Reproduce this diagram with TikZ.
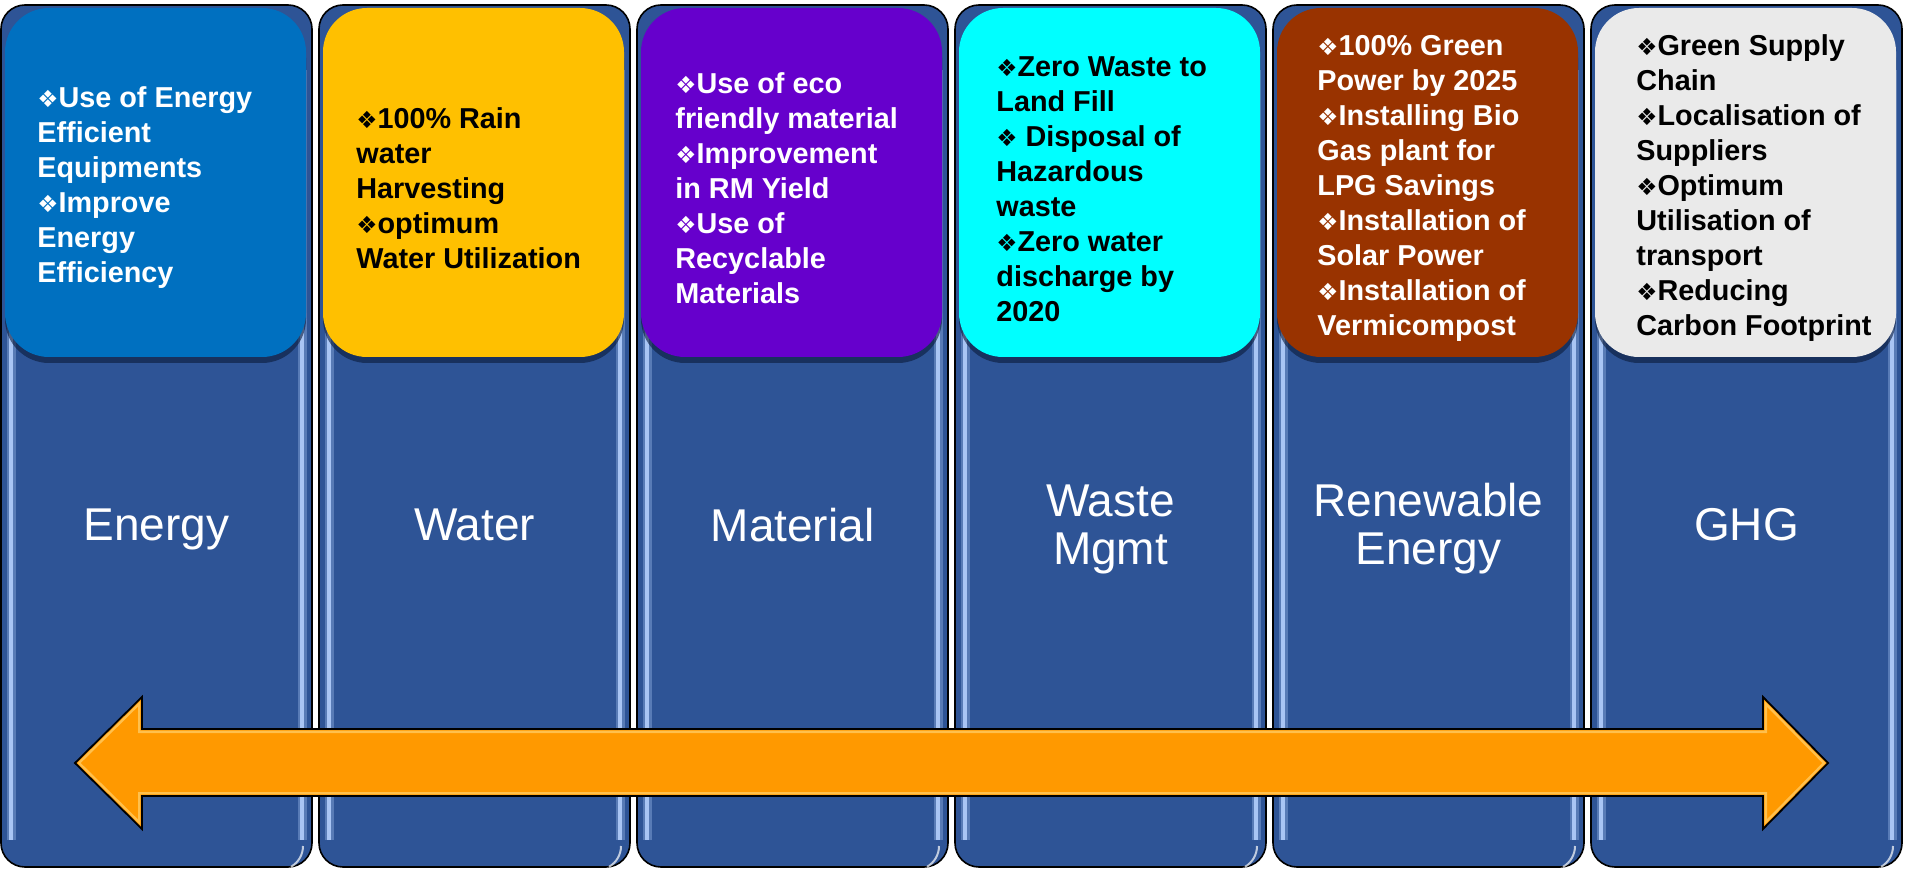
\documentclass[tikz,border=0pt]{standalone}
\usepackage{fontspec}
\setmainfont{Liberation Sans}
\newfontfamily\symf{DejaVu Sans}
\usetikzlibrary{shadows}
\definecolor{colblue}{HTML}{2E5496}
\definecolor{stripeblue}{HTML}{A9C5F4}
\definecolor{c1}{HTML}{0070C0}
\definecolor{c2}{HTML}{FFC000}
\definecolor{c3}{HTML}{6600CC}
\definecolor{c4}{HTML}{00FFFF}
\definecolor{c5}{HTML}{993300}
\definecolor{c6}{HTML}{EAEAEA}
\definecolor{shadowc}{HTML}{0A1A3A}
\definecolor{arroworange}{HTML}{FF9900}
\definecolor{arrowlight}{HTML}{FFC04D}
\newcommand{\bul}{{\symf\fontsize{11.8pt}{11.8pt}\selectfont ❖}}
\tikzset{
  colbox/.style={draw=black, line width=0.8pt, fill=colblue, rounded corners=12pt,
    minimum width=155.5pt, minimum height=431pt, inner sep=0pt},
  topbox/.style={rounded corners=22pt, minimum width=150.5pt, minimum height=174.5pt,
    inner sep=0pt, drop shadow={opacity=0.6, fill=shadowc, shadow xshift=0pt, shadow yshift=-3pt}},
  bullets/.style={anchor=west, align=left, inner sep=0pt,
    font=\bfseries\fontsize{14.4pt}{17.5pt}\selectfont},
  label/.style={align=center, inner sep=0pt, text=white,
    font=\fontsize{23pt}{24pt}\selectfont},
  stripe/.style={stripeblue, line width=1.6pt},
  stripeglow/.style={stripeblue, opacity=0.35, line width=4.5pt}
}
\begin{document}
\begin{tikzpicture}[x=0.5pt, y=-0.5pt]
\useasboundingbox (0,0) rectangle (1905,870);
% columns
\node[colbox] (col1) at (156.5,436) {};
\node[colbox] (col2) at (474.5,436) {};
\node[colbox] (col3) at (792.5,436) {};
\node[colbox] (col4) at (1110.5,436) {};
\node[colbox] (col5) at (1428.5,436) {};
\node[colbox] (col6) at (1746.5,436) {};
% glossy stripes
\foreach \l in {1,319,637,955,1273,1591}{
  \draw[stripeglow] (\l+10,70) -- (\l+10,840);
  \draw[stripeglow] (\l+301,70) -- (\l+301,840);
  \draw[stripe] (\l+10,70) -- (\l+10,840);
  \draw[stripe] (\l+301,70) -- (\l+301,840);
  \draw[white, opacity=0.7, line width=1pt] (\l+302,846) arc[start angle=0, end angle=-60, radius=12pt];
}
% top boxes
\node[topbox, fill=c1] (box1) at (155.5,182.5) {};
\node[topbox, fill=c2] (box2) at (473.5,182.5) {};
\node[topbox, fill=c3] (box3) at (791.5,182.5) {};
\node[topbox, fill=c4] (box4) at (1109.5,182.5) {};
\node[topbox, fill=c5] (box5) at (1427.5,182.5) {};
\node[topbox, fill=c6] (box6) at (1745.5,182.5) {};
% bullet texts
\node[bullets, text=white] (t1) at (37,188) {\bul Use of Energy\\Efficient\\Equipments\\\bul Improve\\Energy\\Efficiency};
\node[bullets, text=black] (t2) at (356,188) {\bul 100\% Rain\\water\\Harvesting\\\bul optimum\\Water Utilization};
\node[bullets, text=white] (t3) at (675,188) {\bul Use of eco\\friendly material\\\bul Improvement\\in RM Yield\\\bul Use of\\Recyclable\\Materials};
\node[bullets, text=black] (t4) at (996,189) {\bul Zero Waste to\\Land Fill\\\bul\ Disposal of\\Hazardous\\waste\\\bul Zero water\\discharge by\\2020};
\node[bullets, text=white] (t5) at (1317,188) {\bul 100\% Green\\Power by 2025\\\bul Installing Bio\\Gas plant for\\LPG Savings\\\bul Installation of\\Solar Power\\\bul Installation of\\Vermicompost};
\node[bullets, text=black] (t6) at (1636,188) {\bul Green Supply\\Chain\\\bul Localisation of\\Suppliers\\\bul Optimum\\Utilisation of\\transport\\\bul Reducing\\Carbon Footprint};
% labels
\node[label] (l1) at (156.5,529) {Energy};
\node[label] (l2) at (474.5,525) {Water};
\node[label] (l3) at (792.5,525) {Material};
\node[label] (l4) at (1110.5,529) {Waste\\Mgmt};
\node[label] (l5) at (1428.5,529) {Renewable\\Energy};
\node[label] (l6) at (1746.5,525) {GHG};
% double arrow
\coordinate (tipL) at (75,763);
\coordinate (tipR) at (1828,763);
\begin{scope}
  \clip (tipL) -- (142,697) -- (142,729) -- (1763,729) -- (1763,697) -- (tipR)
    -- (1763,829) -- (1763,796) -- (142,796) -- (142,829) -- cycle;
  \fill[arroworange] (0,600) rectangle (1905,870);
  \draw[arrowlight, line width=4pt, line join=miter] (tipL) -- (142,697) -- (142,729) -- (1763,729) -- (1763,697) -- (tipR)
    -- (1763,829) -- (1763,796) -- (142,796) -- (142,829) -- cycle;
  \draw[arroworange, line width=1.6pt, line join=miter] (tipL) -- (142,697) -- (142,729) -- (1763,729) -- (1763,697) -- (tipR)
    -- (1763,829) -- (1763,796) -- (142,796) -- (142,829) -- cycle;
\end{scope}
\draw[black, line width=0.9pt, line join=miter] (tipL) -- (142,697) -- (142,729) -- (1763,729) -- (1763,697) -- (tipR)
    -- (1763,829) -- (1763,796) -- (142,796) -- (142,829) -- cycle;
\end{tikzpicture}
\end{document}
